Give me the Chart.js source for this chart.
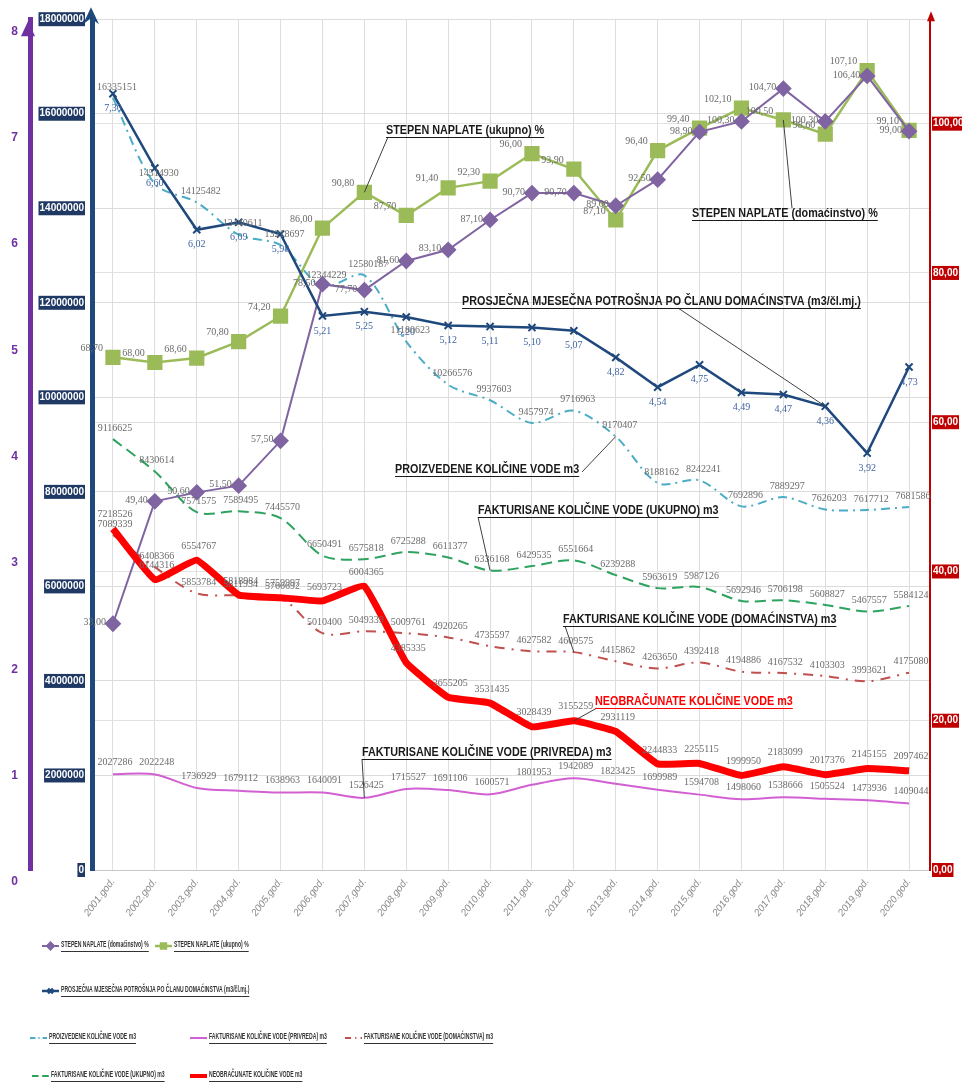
<!DOCTYPE html>
<html>
<head>
<meta charset="utf-8">
<script src="https://cdn.jsdelivr.net/npm/chart.js@4.4.1/dist/chart.umd.min.js"></script>
<style>
html, body { margin: 0; padding: 0; background: #fff; }
#wrap { width: 962px; height: 1084px; }
</style>
</head>
<body>
<div id="wrap"><canvas id="chart" width="962" height="1084"></canvas></div>
<script>
const godine = ['2001.god.', '2002.god.', '2003.god.', '2004.god.', '2005.god.', '2006.god.', '2007.god.',
    '2008.god.', '2009.god.', '2010.god.', '2011.god.', '2012.god.', '2013.god.', '2014.god.', '2015.god.',
    '2016.god.', '2017.god.', '2018.god.', '2019.god.', '2020.god.'];

// stepen naplate, %
const naplataDomacinstvo = [33.00, 49.40, 50.60, 51.50, 57.50, 78.50, 77.70, 81.60, 83.10, 87.10,
    90.70, 90.70, 89.00, 92.50, 98.90, 100.30, 104.70, 100.30, 106.40, 99.00];
const naplataUkupno = [68.70, 68.00, 68.60, 70.80, 74.20, 86.00, 90.80, 87.70, 91.40, 92.30,
    96.00, 93.90, 87.10, 96.40, 99.40, 102.10, 100.50, 98.60, 107.10, 99.10];

// m3 po clanu domacinstva mjesecno
const potrosnjaPoClanu = [7.30, 6.60, 6.02, 6.09, 5.98, 5.21, 5.25, 5.20, 5.12, 5.11,
    5.10, 5.07, 4.82, 4.54, 4.75, 4.49, 4.47, 4.36, 3.92, 4.73];

// kolicine vode, m3
const proizvedeno = [16335151, 14514930, 14125482, 13440611, 13218697, 12344229, 12580187, 11180623, 10266576, 9937603,
    9457974, 9716963, 9170407, 8188162, 8242241, 7692896, 7889297, 7626203, 7617712, 7681586];
const fakturisanoUkupno = [9116625, 8430614, 7571575, 7589495, 7445570, 6650491, 6575818, 6725288, 6611377, 6336168,
    6429535, 6551664, 6239288, 5963619, 5987126, 5692946, 5706198, 5608827, 5467557, 5584124];
const fakturisanoDomacinstva = [7089339, 6408366, 5853784, 5811934, 5766692, 5010400, 5049339, 5009761, 4920265, 4735597,
    4627582, 4609575, 4415862, 4263650, 4392418, 4194886, 4167532, 4103303, 3993621, 4175080];
const neobracunato = [7218526, 6144316, 6554767, 5818984, 5759997, 5693723, 6004365, 4385335, 3655205, 3531435,
    3028439, 3155259, 2931119, 2244833, 2255115, 1999950, 2183099, 2017376, 2145155, 2097462];
const fakturisanoPrivreda = [2027286, 2022248, 1736929, 1679112, 1638963, 1640091, 1526425, 1715527, 1691106, 1600571,
    1801953, 1942089, 1823425, 1699989, 1594708, 1498060, 1538666, 1505524, 1473936, 1409044];

const comma2 = (v) => v.toFixed(2).replace('.', ',');
const whole = (v) => String(Math.round(v));

const datasets = [
    {
        label: 'STEPEN NAPLATE (domaćinstvo) %',
        data: naplataDomacinstvo, yAxisID: 'yRed', order: 2,
        borderColor: '#8064a2', backgroundColor: '#8064a2', borderWidth: 2,
        pointStyle: 'rectRot', pointRadius: 7,
        lbl: { dx: -7, dy: -1, align: 'right', fmt: comma2 },
    },
    {
        label: 'STEPEN NAPLATE (ukupno) %',
        data: naplataUkupno, yAxisID: 'yRed', order: 3,
        borderColor: '#9bbb59', backgroundColor: '#9bbb59', borderWidth: 2.5,
        pointStyle: 'rect', pointRadius: 9,
        lbl: { dx: -10, dy: -9, align: 'right', fmt: comma2 },
    },
    {
        label: 'PROSJEČNA MJESEČNA POTROŠNJA PO ČLANU DOMAĆINSTVA (m3/čl.mj.)',
        data: potrosnjaPoClanu, yAxisID: 'yPurple', order: 0,
        borderColor: '#1f497d', backgroundColor: '#1f497d', borderWidth: 2.5,
        pointStyle: 'crossRot', pointRadius: 5, pointBorderWidth: 2,
        lbl: { dx: 0, dy: 15, align: 'center', fmt: comma2, color: '#3f64a3' },
    },
    {
        label: 'PROIZVEDENE KOLIČINE VODE m3',
        data: proizvedeno, yAxisID: 'yBlue', order: 4,
        borderColor: '#4bacc6', borderWidth: 2, borderDash: [9, 5, 2, 5],
        pointRadius: 0, tension: 0.3,
        lbl: { dx: 4, dy: -11, align: 'center', fmt: whole },
    },
    {
        label: 'FAKTURISANE KOLIČINE VODE (UKUPNO) m3',
        data: fakturisanoUkupno, yAxisID: 'yBlue', order: 5,
        borderColor: '#2da35d', borderWidth: 2, borderDash: [11, 6],
        pointRadius: 0, tension: 0.3,
        lbl: { dx: 2, dy: -11, align: 'center', fmt: whole },
    },
    {
        label: 'FAKTURISANE KOLIČINE VODE (DOMAĆINSTVA) m3',
        data: fakturisanoDomacinstva, yAxisID: 'yBlue', order: 6,
        borderColor: '#c0504d', borderWidth: 2, borderDash: [10, 7, 2, 7],
        pointRadius: 0, tension: 0.3,
        lbl: { dx: 2, dy: -11, align: 'center', fmt: whole },
    },
    {
        label: 'NEOBRAČUNATE KOLIČINE VODE m3',
        data: neobracunato, yAxisID: 'yBlue', order: 1,
        borderColor: '#ff0000', borderWidth: 7,
        pointRadius: 0, tension: 0.1,
        lbl: { dx: 2, dy: -14, align: 'center', fmt: whole },
    },
    {
        label: 'FAKTURISANE KOLIČINE VODE (PRIVREDA) m3',
        data: fakturisanoPrivreda, yAxisID: 'yBlue', order: 7,
        borderColor: '#d260d2', borderWidth: 2,
        pointRadius: 0, tension: 0.3,
        lbl: { dx: 2, dy: -12, align: 'center', fmt: whole },
    },
];

// napomene sa linijom do tacke
const notes = [
    { text: 'STEPEN NAPLATE (ukupno) %', x: 386, y: 131, from: [388, 137], ds: 1, idx: 6 },
    { text: 'STEPEN NAPLATE (domaćinstvo) %', x: 692, y: 214, from: [792, 208], ds: 1, idx: 16 },
    { text: 'PROSJEČNA MJESEČNA POTROŠNJA PO ČLANU DOMAĆINSTVA (m3/čl.mj.)', x: 462, y: 302, from: [678, 308], ds: 2, idx: 17 },
    { text: 'PROIZVEDENE KOLIČINE VODE m3', x: 395, y: 470, from: [582, 472], ds: 3, idx: 12 },
    { text: 'FAKTURISANE KOLIČINE VODE (UKUPNO) m3', x: 478, y: 511, from: [478, 517], ds: 4, idx: 9 },
    { text: 'FAKTURISANE KOLIČINE VODE (DOMAĆINSTVA) m3', x: 563, y: 620, from: [565, 626], ds: 5, idx: 11 },
    { text: 'NEOBRAČUNATE KOLIČINE VODE m3', x: 595, y: 702, from: [597, 708], ds: 6, idx: 11, color: '#ff0000' },
    { text: 'FAKTURISANE KOLIČINE VODE (PRIVREDA) m3', x: 362, y: 753, from: [362, 759], ds: 7, idx: 6 },
];

// legenda ispod grafika
const legendItems = [
    { ds: 0, x: 42, y: 946 }, { ds: 1, x: 155, y: 946 },
    { ds: 2, x: 42, y: 991 },
    { ds: 3, x: 30, y: 1038 }, { ds: 7, x: 190, y: 1038 }, { ds: 5, x: 345, y: 1038 },
    { ds: 4, x: 32, y: 1076 }, { ds: 6, x: 190, y: 1076 },
];

const pointLabels = {
    id: 'pointLabels',
    afterDatasetsDraw(chart) {
        const ctx = chart.ctx;
        ctx.save();
        ctx.font = '10px "Liberation Serif"';
        ctx.textBaseline = 'middle';
        chart.data.datasets.forEach((ds, i) => {
            const meta = chart.getDatasetMeta(i);
            const lbl = ds.lbl;
            ctx.fillStyle = lbl.color || '#6b6b6b';
            ctx.textAlign = lbl.align;
            meta.data.forEach((pt, j) => {
                ctx.fillText(lbl.fmt(ds.data[j]), pt.x + lbl.dx, pt.y + lbl.dy);
            });
        });
        ctx.restore();
    },
};

// uzak, podvucen tekst (sabijen po sirini)
function underlined(ctx, text, x, y, squeeze) {
    ctx.save();
    ctx.translate(x, y);
    ctx.scale(squeeze, 1);
    ctx.fillText(text, 0, 0);
    const w = ctx.measureText(text).width;
    ctx.fillRect(0, 6, w, 1);
    ctx.restore();
}

const extras = {
    id: 'extras',
    afterDraw(chart) {
        const ctx = chart.ctx;
        const area = chart.chartArea;
        const { yBlue, yRed, yPurple } = chart.scales;
        ctx.save();

        // strelice na osama
        const bx = yBlue.right - 1;
        ctx.fillStyle = '#1f497d';
        ctx.beginPath();
        ctx.moveTo(bx, area.top - 12);
        ctx.lineTo(bx + 8, area.top + 5);
        ctx.lineTo(bx, area.top - 1);
        ctx.lineTo(bx - 8, area.top + 5);
        ctx.closePath();
        ctx.fill();

        const rx = yRed.left + 1;
        ctx.fillStyle = '#c00000';
        ctx.beginPath();
        ctx.moveTo(rx, area.top - 8);
        ctx.lineTo(rx + 4, area.top + 2);
        ctx.lineTo(rx - 4, area.top + 2);
        ctx.closePath();
        ctx.fill();

        const px = yPurple.right - 2;
        ctx.fillStyle = '#7030a0';
        ctx.beginPath();
        ctx.moveTo(px, area.top + 2);
        ctx.lineTo(px + 7, area.top + 17);
        ctx.lineTo(px - 7, area.top + 17);
        ctx.closePath();
        ctx.fill();

        // napomene
        ctx.font = 'bold 12px "Liberation Sans"';
        ctx.textBaseline = 'middle';
        ctx.textAlign = 'left';
        notes.forEach((n) => {
            const pt = chart.getDatasetMeta(n.ds).data[n.idx];
            ctx.strokeStyle = '#404040';
            ctx.lineWidth = 1;
            ctx.beginPath();
            ctx.moveTo(n.from[0], n.from[1]);
            ctx.lineTo(pt.x, pt.y);
            ctx.stroke();
            ctx.fillStyle = n.color || '#1a1a1a';
            underlined(ctx, n.text, n.x, n.y, 0.9);
        });

        // legenda
        ctx.font = 'bold 8.5px "Liberation Sans"';
        legendItems.forEach((item) => {
            const ds = chart.data.datasets[item.ds];
            ctx.strokeStyle = ds.borderColor;
            ctx.lineWidth = Math.min(ds.borderWidth, 4);
            ctx.setLineDash(ds.borderDash ? ds.borderDash.map((d) => d * 0.6) : []);
            ctx.beginPath();
            ctx.moveTo(item.x, item.y);
            ctx.lineTo(item.x + 17, item.y);
            ctx.stroke();
            ctx.setLineDash([]);
            if (ds.pointRadius) {
                Chart.helpers.drawPoint(ctx, {
                    pointStyle: ds.pointStyle, radius: 3.5, borderWidth: 1.5,
                }, item.x + 8.5, item.y);
                ctx.fillStyle = ds.backgroundColor;
                ctx.fill();
            }
            ctx.fillStyle = '#333';
            underlined(ctx, ds.label, item.x + 19, item.y - 1, 0.6);
        });
        ctx.restore();
    },
};

new Chart(document.getElementById('chart'), {
    type: 'line',
    data: { labels: godine, datasets: datasets },
    options: {
        responsive: false,
        animation: false,
        layout: { padding: { top: 18, right: 0, bottom: 144, left: 0 } },
        plugins: { legend: { display: false }, tooltip: { enabled: false } },
        elements: { line: { fill: false } },
        scales: {
            x: {
                offset: true,
                grid: { color: '#dedede', drawTicks: false },
                border: { color: '#c8c8c8' },
                ticks: {
                    color: '#8a8a8a', font: { family: 'Liberation Sans', size: 10, style: 'italic' },
                    minRotation: 53, maxRotation: 53, padding: 6,
                },
                afterFit(scale) { scale.height = 70; },
            },
            yPurple: {
                position: 'left', weight: 1, min: 0, max: 8,
                grid: { display: false, drawTicks: false },
                border: { color: '#7030a0', width: 5, dash: [4, 4] },
                ticks: {
                    stepSize: 1, padding: 12, labelOffset: 12, color: '#7030a0',
                    font: { family: 'Liberation Sans', size: 12, weight: 'bold' },
                },
                afterFit(scale) { scale.width = 30; },
            },
            yBlue: {
                position: 'left', weight: 0, min: 0, max: 18000000,
                grid: { color: '#dcdcdc', drawTicks: false },
                border: { color: '#1f497d', width: 5 },
                ticks: {
                    stepSize: 2000000, padding: 8, color: '#ffffff',
                    font: { family: 'Liberation Sans', size: 10, weight: 'bold' },
                    showLabelBackdrop: true, backdropColor: '#1f3864',
                    backdropPadding: { x: 1, y: 1 },
                    callback: (v) => String(v),
                },
                afterFit(scale) { scale.width = 62; },
            },
            yRed: {
                position: 'right', min: 0, max: 114,
                grid: { color: '#e2e2e2', drawTicks: false },
                border: { color: '#c00000', width: 2 },
                ticks: {
                    stepSize: 20, padding: 3, color: '#ffffff',
                    font: { family: 'Liberation Sans', size: 10, weight: 'bold' },
                    showLabelBackdrop: true, backdropColor: '#c00000',
                    backdropPadding: { x: 1, y: 1 },
                    callback: (v) => comma2(v),
                },
                afterBuildTicks(scale) {
                    scale.ticks = scale.ticks.filter((t) => t.value % 20 === 0);
                },
                afterFit(scale) { scale.width = 32; },
            },
        },
    },
    plugins: [pointLabels, extras],
});
</script>
</body>
</html>
